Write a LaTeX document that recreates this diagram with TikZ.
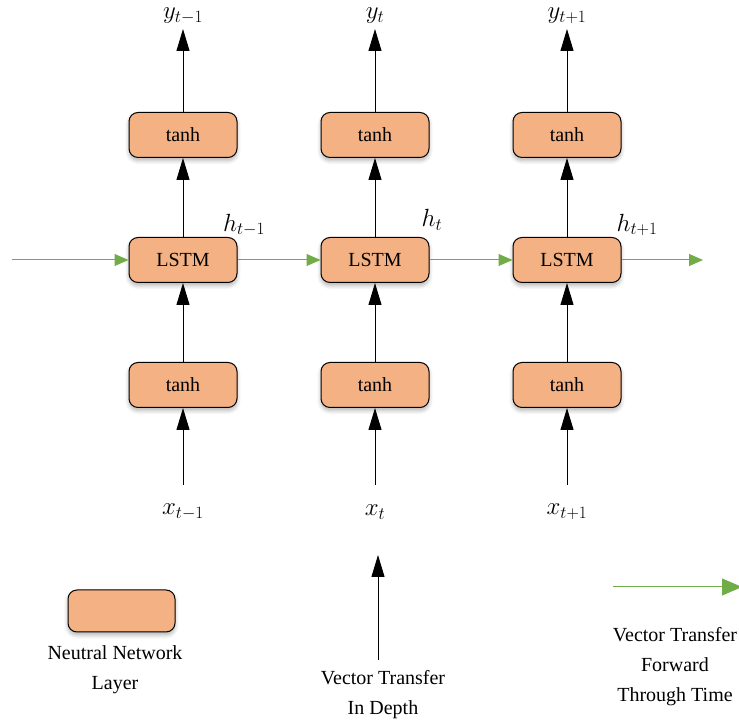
\documentclass[tikz,border=0pt]{standalone}
\usepackage{fontspec}
\setmainfont{Liberation Serif}
\usetikzlibrary{arrows.meta,shadows.blur}
\definecolor{boxfill}{HTML}{F4B183}
\definecolor{arrgreen}{HTML}{70AD47}
\begin{document}
\begin{tikzpicture}[x=1pt,y=1pt,
  layer/.style={draw=black, line width=1pt, fill=boxfill, rounded corners=9pt,
    minimum width=108pt, minimum height=45pt, inner sep=0pt,
    font=\fontsize{20}{24}\selectfont,
    blur shadow={shadow xshift=0pt, shadow yshift=-3pt, shadow blur radius=4pt, shadow opacity=30, shadow blur steps=6}},
  deep/.style={line width=1pt, -{Triangle[length=22pt,width=13pt]}},
  fwd/.style={line width=1pt, draw=arrgreen, -{Triangle[length=14pt,width=12pt]}},
  lbl/.style={font=\fontsize{23}{26}\selectfont, inner sep=0pt},
  txt/.style={font=\fontsize{20}{30}\selectfont, align=center, inner sep=0pt}]
\useasboundingbox (0,0) rectangle (739,725);
\begin{scope}
\clip (0,0) rectangle (739,725);
% columns
\foreach \c/\xx/\sub in {a/183/{t-1}, b/375/{t}, c/567/{t+1}} {
  \node[layer] (top\c) at (\xx,590) {tanh};
  \node[layer] (lstm\c) at (\xx,465) {LSTM};
  \node[layer] (bot\c) at (\xx,340) {tanh};
  \node[lbl, anchor=north] (y\c) at (\xx,717) {$y_{\sub}$};
  \node[lbl] (x\c) at (\xx,213) {$x_{\sub}$};
  \coordinate (ytip\c) at (\xx,696);
  \coordinate (xstart\c) at (\xx,240);
  \draw[deep] (top\c.north) -- (ytip\c);
  \draw[deep] (lstm\c.north) -- (top\c.south);
  \draw[deep] (bot\c.north) -- (lstm\c.south);
  \draw[deep] (xstart\c) -- (bot\c.south);
}
\node[lbl] (ha) at (244,500) {$h_{t-1}$};
\node[lbl] (hb) at (432,505) {$h_{t}$};
\node[lbl] (hc) at (637,500) {$h_{t+1}$};
\coordinate (inL) at (12,465);
\coordinate (outR) at (703,465);
\draw[fwd] (inL) -- (lstma.west);
\draw[fwd] (lstma.east) -- (lstmb.west);
\draw[fwd] (lstmb.east) -- (lstmc.west);
\draw[fwd] (lstmc.east) -- (outR);
% legend
\node[layer, minimum width=107pt, minimum height=42pt] (leg) at (121.5,114) {};
\node[txt] (legt) at (115,55) {Neutral Network\\Layer};
\coordinate (vs) at (378,65);
\coordinate (ve) at (378,170);
\draw[deep] (vs) -- (ve);
\node[txt] (vt) at (383,30) {Vector Transfer\\In Depth};
\coordinate (gs) at (613,138);
\coordinate (ge) at (742,138);
\draw[fwd, -{Triangle[length=20pt,width=17pt]}] (gs) -- (ge);
\node[txt] (gt) at (675,58) {Vector Transfer\\Forward\\Through Time};
\end{scope}
\end{tikzpicture}
\end{document}
